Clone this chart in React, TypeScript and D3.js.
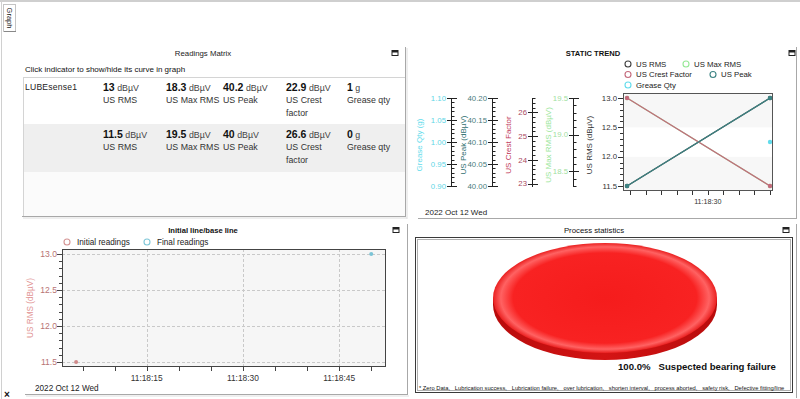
import React from "react";
import * as d3 from "d3";

// ---------------- DATA ----------------
const sensorName = "LUBEsense1";
const metricLabels = ["US RMS", "US Max RMS", "US Peak", "US Crest factor", "Grease qty"];
const metricUnits = ["dBµV", "dBµV", "dBµV", "dBµV", "g"];
const latestValues = [13, 18.3, 40.2, 22.9, 1];
const initialValues = [11.5, 19.5, 40, 26.6, 0];
const readingTimes = ["11:18:04", "11:18:50"]; // initial, final
const readingDate = "2022 Oct 12 Wed";

const trendNames = ["US RMS", "US Max RMS", "US Crest Factor", "US Peak", "Grease Qty"];
const trendRms = [11.5, 13];
const trendMaxRms = [19.5, 18.3];
const trendCrest = [26.6, 22.9];
const trendPeak = [40, 40.2];
const trendGrease: (number | null)[] = [null, 1];

const statCategories = [
  "Zero Data", "Lubrication success", "Lubrication failure", "over lubrication",
  "shorten interval", "process aborted", "safety risk", "Defective fitting/line",
  "Suspected bearing failure",
];
const statCounts = [0, 0, 0, 0, 0, 0, 0, 0, 1];

// ---------------- STYLE / LAYOUT ----------------
const FONT = "'Liberation Sans', Arial, sans-serif";
const colRMS = "#404040";
const colMax = "#95e895";
const colCrest = "#c46a7c";
const colPeak = "#3c8383";
const colGrease = "#62dcec";

const parseT = d3.timeParse("%H:%M:%S");
const times = readingTimes.map((s) => parseT(s) as Date);

// static trend
const TR_TOP = 98, TR_BOT = 186;
const trendX = d3
  .scaleTime()
  .domain([d3.timeMillisecond.offset(times[0], -1300), d3.timeMillisecond.offset(times[1], 960)])
  .range([623, 773]);

function domainOf(vals: (number | null)[]): [number, number] {
  const v = vals.filter((d) => d != null) as number[];
  const [a, b] = d3.extent(v) as [number, number];
  return a === b ? [a - 0.1, b + 0.1] : [a, b];
}

const trendSeriesValues = [trendRms, trendMaxRms, trendCrest, trendPeak, trendGrease];
const trendColors = [colRMS, colMax, colCrest, colPeak, colGrease];

const secondaryAxes = [
  { vals: trendGrease, title: "Grease Qty (g)", color: colGrease, tick: "#5fd6e6", x: 451, tx: 419, major: 4, minor: 20, fmt: ".2f" },
  { vals: trendPeak, title: "US Peak (dBµV)", color: "#2f6f6f", tick: "#4a7c7c", x: 492, tx: 463, major: 4, minor: 20, fmt: ".2f" },
  { vals: trendCrest, title: "US Crest Factor", color: "#c0395a", tick: "#a84a62", x: 532, tx: 508, major: 4, minor: 18, fmt: "d" },
  { vals: trendMaxRms, title: "US Max RMS (dBµV)", color: "#9be69b", tick: "#9fe09f", x: 573, tx: 548, major: 3, minor: 12, fmt: ".1f" },
].map((a) => ({ ...a, scale: d3.scaleLinear().domain(domainOf(a.vals)).range([TR_BOT, TR_TOP]) }));

const trendScales = [
  d3.scaleLinear().domain(domainOf(trendRms)).range([TR_BOT, TR_TOP]),
  secondaryAxes[3].scale,
  secondaryAxes[2].scale,
  secondaryAxes[1].scale,
  secondaryAxes[0].scale,
];

// initial line chart
const initX = d3
  .scaleTime()
  .domain([d3.timeMillisecond.offset(times[0], -2200), d3.timeMillisecond.offset(times[1], 2300)])
  .range([62, 386]);
const initY = d3
  .scaleLinear()
  .domain(d3.extent([initialValues[0], latestValues[0]]) as [number, number])
  .range([362, 254]);

const fmtTime = d3.timeFormat("%H:%M:%S");

function PanelIcon({ x, y }: { x: number; y: number }) {
  return (
    <g>
      <rect x={x - 3} y={y - 2.5} width={6} height={5} fill="#fff" stroke="#222" strokeWidth={1} />
      <rect x={x - 3} y={y - 2.5} width={6} height={2} fill="#222" />
    </g>
  );
}

function wrapLabel(s: string): string[] {
  if (s.length <= 12) return [s];
  const i = s.lastIndexOf(" ");
  return [s.slice(0, i), s.slice(i + 1)];
}

function ReadingsMatrix() {
  const colX = [103, 166, 223, 286, 347];
  const rows = [
    { name: sensorName, values: latestValues, top: 77, bg: "#ffffff" },
    { name: "", values: initialValues, top: 124, bg: "#efefef" },
  ];
  return (
    <g>
      <text x={203} y={56} textAnchor="middle" fontSize={7.8} fill="#222">Readings Matrix</text>
      <PanelIcon x={395} y={53} />
      <text x={25} y={72} fontSize={8} fill="#111">Click indicator to show/hide its curve in graph</text>
      <rect x={23} y={77} width={382} height={139} fill="#fbfbfb" />
      {rows.map((r, ri) => (
        <g key={ri}>
          <rect x={23} y={r.top} width={382} height={ri === 0 ? 47 : 48} fill={r.bg} />
          <text x={25} y={r.top + 13} fontSize={8.6} fill="#222" letterSpacing={0.2}>{r.name}</text>
          {r.values.map((v, i) => (
            <g key={i}>
              <text x={colX[i]} y={r.top + 14} fill="#111">
                <tspan fontWeight="bold" fontSize={10.5}>{String(v)}</tspan>
                <tspan fontSize={8.8} fill="#444">{" " + metricUnits[i]}</tspan>
              </text>
              {wrapLabel(metricLabels[i]).map((ln, li) => (
                <text key={li} x={colX[i]} y={r.top + 26 + li * 12.5} fontSize={8.8} fill="#333">{ln}</text>
              ))}
            </g>
          ))}
        </g>
      ))}
      <line x1={23} x2={405} y1={77.5} y2={77.5} stroke="#d4d4d4" />
      <line x1={23.5} x2={23.5} y1={77} y2={216} stroke="#d4d4d4" />
      <line x1={405.5} x2={405.5} y1={47} y2={217} stroke="#a8a8a8" />
      <line x1={407} x2={407} y1={48} y2={219} stroke="#dedede" />
      <line x1={22} x2={406} y1={216.5} y2={216.5} stroke="#a8a8a8" />
      <line x1={23} x2={407} y1={218} y2={218} stroke="#dedede" />
    </g>
  );
}

function StaticTrend() {
  const rmsScale = trendScales[0];
  const bands = rmsScale.ticks(4);
  const xTicks = trendX.ticks(d3.timeSecond.every(5) as any);
  const lineGen = (sc: d3.ScaleLinear<number, number>) =>
    d3
      .line<number | null>()
      .defined((d) => d != null)
      .x((_, i) => trendX(times[i]))
      .y((d) => sc(d as number));
  const legend = [
    { name: trendNames[0], c: colRMS, x: 628, y: 64 },
    { name: trendNames[1], c: colMax, x: 686, y: 64 },
    { name: trendNames[2], c: colCrest, x: 628, y: 74.5 },
    { name: trendNames[3], c: colPeak, x: 713, y: 74.5 },
    { name: trendNames[4], c: colGrease, x: 628, y: 85 },
  ];
  return (
    <g>
      <text x={593} y={56} textAnchor="middle" fontSize={7.6} fontWeight="bold" fill="#111">STATIC TREND</text>
      <PanelIcon x={792} y={53} />
      {legend.map((l) => (
        <g key={l.name}>
          <circle cx={l.x} cy={l.y} r={3} fill="#fff" stroke={l.c} strokeWidth={1.1} />
          <text x={l.x + 8} y={l.y} dy="0.35em" fontSize={7.8} fill="#222">{l.name}</text>
        </g>
      ))}
      {bands.slice(0, -1).map((v, i) => (
        <rect key={v} x={623} width={150}
          y={i === bands.length - 2 ? 93 : rmsScale(bands[i + 1])}
          height={(i === 0 ? 191 : rmsScale(v)) - (i === bands.length - 2 ? 93 : rmsScale(bands[i + 1]))}
          fill={i % 2 === 0 ? "#f7f7f7" : "#ffffff"} />
      ))}
      {trendSeriesValues.map((vals, si) => (
        <g key={si}>
          <path d={lineGen(trendScales[si])(vals) || ""} fill="none" stroke={trendColors[si]} strokeWidth={1.2} />
          {vals.map((v, i) =>
            v == null ? null : (
              <circle key={i} cx={trendX(times[i])} cy={trendScales[si](v)} r={2.2} fill={trendColors[si]} />
            )
          )}
        </g>
      ))}
      <rect x={623.5} y={93.5} width={149} height={97} fill="none" stroke="#555" />
      {rmsScale.ticks(15).map((v) => (
        <line key={"m" + v} x1={620} x2={623} y1={Math.round(rmsScale(v)) + 0.5} y2={Math.round(rmsScale(v)) + 0.5} stroke="#333" />
      ))}
      {rmsScale.ticks(4).map((v) => (
        <g key={v}>
          <line x1={618} x2={623} y1={Math.round(rmsScale(v)) + 0.5} y2={Math.round(rmsScale(v)) + 0.5} stroke="#333" />
          <text x={617} y={rmsScale(v)} dy="0.35em" textAnchor="end" fontSize={7.8} fill="#333">{d3.format(".1f")(v)}</text>
        </g>
      ))}
      <text transform={`translate(589,${(TR_TOP + TR_BOT) / 2 + 3}) rotate(-90)`} textAnchor="middle" dy="0.35em" fontSize={8} fill="#333">US RMS (dBµV)</text>
      {secondaryAxes.map((a) => (
        <g key={a.title}>
          <line x1={a.x + 0.5} x2={a.x + 0.5} y1={TR_TOP} y2={TR_BOT + 1} stroke="#222" />
          {a.scale.ticks(a.minor).map((v) => (
            <line key={"m" + v} x1={a.x} x2={a.x + 3.5} y1={Math.round(a.scale(v)) + 0.5} y2={Math.round(a.scale(v)) + 0.5} stroke="#222" />
          ))}
          {a.scale.ticks(a.major).map((v) => (
            <g key={v}>
              <line x1={a.x - 4} x2={a.x + 6} y1={Math.round(a.scale(v)) + 0.5} y2={Math.round(a.scale(v)) + 0.5} stroke="#222" />
              <text x={a.x - 5} y={a.scale(v)} dy="0.35em" textAnchor="end" fontSize={7.8} fill={a.tick}>{d3.format(a.fmt)(v)}</text>
            </g>
          ))}
          <text transform={`translate(${a.tx},${(TR_TOP + TR_BOT) / 2 + 3}) rotate(-90)`} textAnchor="middle" dy="0.35em" fontSize={8} fill={a.color}>{a.title}</text>
        </g>
      ))}
      {xTicks.map((t) => (
        <g key={+t}>
          <line x1={Math.round(trendX(t)) + 0.5} x2={Math.round(trendX(t)) + 0.5} y1={191} y2={195} stroke="#333" />
          {t.getSeconds() % 30 === 0 ? (
            <text x={trendX(t)} y={204} textAnchor="middle" fontSize={7.2} fill="#333">{fmtTime(t)}</text>
          ) : null}
        </g>
      ))}
      <text x={425} y={215} fontSize={8} fill="#222">{readingDate}</text>
      <line x1={796.5} x2={796.5} y1={47} y2={218} stroke="#a8a8a8" />
      <line x1={418} x2={797} y1={218.5} y2={218.5} stroke="#a8a8a8" />
    </g>
  );
}

function InitialChart() {
  const yMaj = initY.ticks(4);
  const yMin = initY.ticks(15);
  const xAll = initX.ticks(d3.timeSecond.every(5) as any);
  const xMaj = xAll.filter((t) => t.getSeconds() % 15 === 0);
  const initialPts = [{ t: times[0], v: initialValues[0] }];
  const finalPts = [{ t: times[1], v: latestValues[0] }];
  return (
    <g>
      <text x={203} y={233} textAnchor="middle" fontSize={7.6} fontWeight="bold" fill="#111">Initial line/base line</text>
      <PanelIcon x={396} y={230} />
      <circle cx={67} cy={242} r={3} fill="#fff" stroke="#d49494" strokeWidth={1.1} />
      <text x={77} y={242} dy="0.35em" fontSize={8.2} fill="#222">Initial readings</text>
      <circle cx={147} cy={242} r={3} fill="#fff" stroke="#7fc7d8" strokeWidth={1.1} />
      <text x={157} y={242} dy="0.35em" fontSize={8.2} fill="#222">Final readings</text>
      <rect x={62} y={249} width={324} height={118} fill="#f6f6f6" />
      {yMaj.map((v) => (
        <line key={"gy" + v} x1={62} x2={386} y1={Math.round(initY(v)) + 0.5} y2={Math.round(initY(v)) + 0.5} stroke="#c9c9c9" strokeDasharray="3,2" />
      ))}
      {xMaj.map((t) => (
        <line key={"gx" + +t} x1={Math.round(initX(t)) + 0.5} x2={Math.round(initX(t)) + 0.5} y1={249} y2={367} stroke="#c9c9c9" strokeDasharray="3,2" />
      ))}
      <rect x={62.5} y={249.5} width={323} height={117} fill="none" stroke="#444" />
      {initialPts.map((p, i) => (
        <circle key={"i" + i} cx={initX(p.t)} cy={initY(p.v)} r={2} fill="#d08a8a" />
      ))}
      {finalPts.map((p, i) => (
        <circle key={"f" + i} cx={initX(p.t)} cy={initY(p.v)} r={2} fill="#7cc4d6" />
      ))}
      {yMin.map((v) => (
        <line key={"ym" + v} x1={59} x2={62} y1={Math.round(initY(v)) + 0.5} y2={Math.round(initY(v)) + 0.5} stroke="#444" />
      ))}
      {yMaj.map((v) => (
        <g key={"yl" + v}>
          <line x1={57} x2={62} y1={Math.round(initY(v)) + 0.5} y2={Math.round(initY(v)) + 0.5} stroke="#444" />
          <text x={57} y={initY(v)} dy="0.35em" textAnchor="end" fontSize={8.6} fill="#b87474">{d3.format(".1f")(v)}</text>
        </g>
      ))}
      <text transform="translate(30,308) rotate(-90)" textAnchor="middle" dy="0.35em" fontSize={8.2} fill="#e29696">US RMS (dBµV)</text>
      {xAll.map((t) => (
        <line key={"xt" + +t} x1={Math.round(initX(t)) + 0.5} x2={Math.round(initX(t)) + 0.5} y1={367} y2={371} stroke="#444" />
      ))}
      {xMaj.map((t) => (
        <text key={"xl" + +t} x={initX(t)} y={381} textAnchor="middle" fontSize={8.4} fill="#333">{fmtTime(t)}</text>
      ))}
      <text x={35} y={391} fontSize={8.2} fill="#222">{readingDate}</text>
      <line x1={407.5} x2={407.5} y1={224} y2={395} stroke="#a8a8a8" />
      <line x1={25} x2={408} y1={394.5} y2={394.5} stroke="#a8a8a8" />
      <line x1={26} x2={409} y1={396} y2={396} stroke="#e0e0e0" />
    </g>
  );
}

function ProcessStats() {
  const cx = 605, cy = 298, rx = 112, ry = 55, depth = 7;
  const total = d3.sum(statCounts);
  const arcs = d3.pie<number>().sort(null).value((d) => d)(statCounts).filter((a) => a.value > 0);
  const arc = d3.arc<d3.PieArcDatum<number>>().innerRadius(0).outerRadius(rx);
  const main = arcs[0];
  const pct = d3.format(".1%")(main.value / total);
  const footer = "* " + statCategories.slice(0, -1).join(",   ");
  return (
    <g>
      <defs>
        <radialGradient id="pieTop" cx="0.5" cy="0.5" r="0.5">
          <stop offset="0%" stopColor="#f51c1c" />
          <stop offset="82%" stopColor="#f82222" />
          <stop offset="93%" stopColor="#ff6262" />
          <stop offset="100%" stopColor="#ea2020" />
        </radialGradient>
        <linearGradient id="pieSide" x1="0" x2="1" y1="0" y2="0">
          <stop offset="0%" stopColor="#b80c0c" />
          <stop offset="50%" stopColor="#d41414" />
          <stop offset="100%" stopColor="#b80c0c" />
        </linearGradient>
      </defs>
      <text x={594} y={233} textAnchor="middle" fontSize={7.8} fill="#111">Process statistics</text>
      <PanelIcon x={786} y={230} />
      <rect x={415.5} y={237.5} width={377} height={155} fill="#fff" stroke="#3a3a3a" />
      <rect x={417.5} y={239.5} width={373} height={151} fill="none" stroke="#b0b0b0" />
      {arcs.map((a, i) => (
        <g key={i}>
          <path d={arc(a) || ""} transform={`translate(${cx},${cy + depth}) scale(1,${ry / rx})`} fill="url(#pieSide)" />
          <rect x={cx - rx} y={cy} width={2 * rx} height={depth} fill="url(#pieSide)" />
          <path d={arc(a) || ""} transform={`translate(${cx},${cy}) scale(1,${ry / rx})`} fill="url(#pieTop)" />
        </g>
      ))}
      <text x={618} y={370} fontSize={9.6} fontWeight="bold" fill="#111" style={{ whiteSpace: "pre" }}>
        {pct + "   " + statCategories[main.index]}
      </text>
      <text x={419} y={390} fontSize={5.75} fill="#111" style={{ whiteSpace: "pre" }}>{footer}</text>
      <line x1={796.5} x2={796.5} y1={224} y2={398} stroke="#a8a8a8" />
    </g>
  );
}

export default function App() {
  return (
    <svg width={800} height={399} style={{ position: "absolute", left: 0, top: 0, background: "#fff" }} fontFamily={FONT}>
      <rect x={0} y={0} width={800} height={399} fill="#fff" />
      <line x1={0} x2={800} y1={1} y2={1} stroke="#cfcfcf" strokeWidth={2} />
      <line x1={1.5} x2={1.5} y1={0} y2={399} stroke="#d0d0d0" />
      <rect x={3.5} y={4.5} width={12} height={27} fill="#fff" stroke="#c4c4c4" />
      <line x1={4} x2={16} y1={31.5} y2={31.5} stroke="#888" />
      <text transform="translate(10,18) rotate(90)" textAnchor="middle" dy="0.35em" fontSize={7.5} fill="#222">Graph</text>
      <ReadingsMatrix />
      <StaticTrend />
      <InitialChart />
      <ProcessStats />
      <text x={7} y={398} textAnchor="middle" fontSize={10} fontWeight="bold" fill="#111">×</text>
    </svg>
  );
}
